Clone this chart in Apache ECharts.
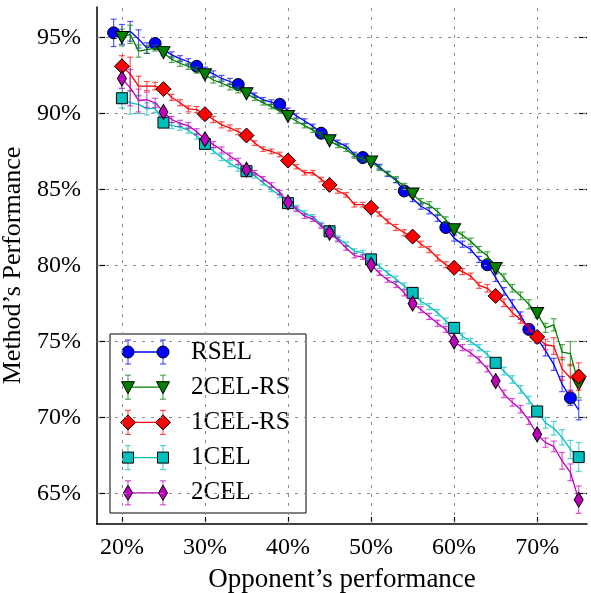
<!DOCTYPE html>
<html>
<head>
<meta charset="utf-8">
<script src="https://cdn.jsdelivr.net/npm/echarts@6/dist/echarts.min.js"></script>
<style>
html, body { margin: 0; padding: 0; background: #fff; }
#chart { width: 591px; height: 593px; }
</style>
</head>
<body>
<div id="chart"></div>
<script>
// tick positions (percent)
const xTicks = [20, 30, 40, 50, 60, 70];
const yTicks = [65, 70, 75, 80, 85, 90, 95];

// opponent's performance (x), one point per percent
const xRSEL = [19, 20, 21, 22, 23, 24, 25, 26, 27, 28, 29, 30, 31, 32, 33, 34, 35, 36, 37, 38,
  39, 40, 41, 42, 43, 44, 45, 46, 47, 48, 49, 50, 51, 52, 53, 54, 55, 56, 57, 58,
  59, 60, 61, 62, 63, 64, 65, 66, 67, 68, 69, 70, 71, 72, 73, 74, 75];
const xOther = [20, 21, 22, 23, 24, 25, 26, 27, 28, 29, 30, 31, 32, 33, 34, 35, 36, 37, 38, 39,
  40, 41, 42, 43, 44, 45, 46, 47, 48, 49, 50, 51, 52, 53, 54, 55, 56, 57, 58, 59,
  60, 61, 62, 63, 64, 65, 66, 67, 68, 69, 70, 71, 72, 73, 74, 75];

// method's performance (y) and error half-widths
const rsel = [95.3, 95.2, 95.4, 94.9, 94.3, 94.6, 94.2, 93.85, 93.6, 93.4,
  93.1, 92.85, 92.6, 92.3, 92.1, 91.9, 91.5, 91.2, 90.9, 90.75,
  90.6, 90.2, 89.85, 89.5, 89.15, 88.7, 88.4, 88.1, 87.85, 87.3,
  87.1, 86.95, 86.5, 86.0, 85.6, 84.9, 84.4, 83.9, 83.6, 83.1,
  82.5, 81.8, 81.4, 81.05, 80.4, 80.05, 79.2, 78.3, 77.5, 76.7,
  75.8, 75.2, 74.4, 73.5, 72.2, 71.3, 70.5];
const rselErr = [0.9, 0.65, 0.65, 0.6, 0.35, 0.25, 0.2, 0.2, 0.2, 0.2,
  0.2, 0.2, 0.2, 0.2, 0.2, 0.2, 0.15, 0.15, 0.15, 0.15,
  0.15, 0.15, 0.15, 0.15, 0.15, 0.15, 0.15, 0.15, 0.15, 0.15,
  0.15, 0.15, 0.15, 0.15, 0.15, 0.2, 0.2, 0.2, 0.2, 0.2,
  0.2, 0.2, 0.2, 0.2, 0.2, 0.25, 0.25, 0.25, 0.25, 0.25,
  0.3, 0.3, 0.35, 0.4, 0.5, 0.5, 0.65];

const cel2rs = [95.0, 95.2, 94.1, 94.2, 94.3, 94.0, 93.55, 93.3, 93.1, 92.85,
  92.55, 92.2, 92.0, 91.75, 91.55, 91.3, 91.0, 90.7, 90.45, 90.15,
  89.8, 89.5, 89.2, 88.9, 88.6, 88.2, 87.9, 87.65, 87.2, 87.0,
  86.8, 86.4, 86.05, 85.65, 85.2, 84.7, 84.2, 84.0, 83.55, 83.0,
  82.35, 82.0, 81.6, 81.05, 80.65, 79.8, 79.2, 78.5, 78.0, 77.45,
  76.85, 75.9, 76.1, 74.3, 74.2, 72.2];
const cel2rsErr = [0.55, 0.6, 0.4, 0.25, 0.2, 0.2, 0.2, 0.2, 0.2, 0.2,
  0.2, 0.2, 0.2, 0.2, 0.2, 0.15, 0.15, 0.15, 0.15, 0.15,
  0.15, 0.15, 0.15, 0.15, 0.15, 0.15, 0.15, 0.15, 0.15, 0.15,
  0.15, 0.15, 0.15, 0.2, 0.2, 0.2, 0.2, 0.2, 0.2, 0.2,
  0.2, 0.2, 0.2, 0.2, 0.25, 0.25, 0.25, 0.25, 0.25, 0.3,
  0.3, 0.3, 0.4, 0.5, 0.8, 0.9];

const cel1rs = [93.1, 92.6, 91.8, 91.8, 91.8, 91.6, 91.05, 90.7, 90.3, 90.25,
  89.95, 89.6, 89.25, 89.05, 88.8, 88.55, 88.05, 87.65, 87.5, 87.3,
  86.9, 86.5, 86.1, 86.1, 85.65, 85.3, 84.9, 84.65, 84.0, 84.0,
  83.8, 83.4, 82.9, 82.5, 82.15, 81.9, 81.4, 81.05, 80.5, 80.05,
  79.85, 79.6, 79.3, 78.7, 78.5, 78.0, 77.55, 76.9, 76.45, 75.9,
  75.3, 74.8, 74.7, 73.2, 72.6, 72.7];
const cel1rsErr = [0.7, 1.1, 0.65, 0.3, 0.25, 0.2, 0.2, 0.2, 0.2, 0.2,
  0.2, 0.2, 0.2, 0.2, 0.2, 0.15, 0.15, 0.15, 0.15, 0.15,
  0.15, 0.15, 0.15, 0.15, 0.15, 0.15, 0.15, 0.15, 0.15, 0.15,
  0.15, 0.15, 0.15, 0.2, 0.2, 0.2, 0.2, 0.2, 0.2, 0.2,
  0.2, 0.2, 0.2, 0.2, 0.25, 0.25, 0.25, 0.25, 0.25, 0.25,
  0.3, 0.35, 0.55, 0.75, 0.9, 0.9];

const cel1 = [91.0, 90.7, 90.6, 90.3, 90.35, 89.4, 89.2, 89.1, 88.9, 88.5,
  88.0, 87.55, 87.1, 86.7, 86.4, 86.2, 85.9, 85.45, 85.0, 84.6,
  84.1, 83.8, 83.45, 83.2, 82.7, 82.25, 81.8, 81.4, 80.95, 80.85,
  80.4, 79.95, 79.5, 79.1, 78.65, 78.2, 77.65, 77.3, 76.9, 76.35,
  75.9, 75.35, 75.0, 74.6, 74.15, 73.6, 73.05, 72.5, 71.85, 71.15,
  70.4, 69.65, 69.3, 68.7, 67.9, 67.4];
const cel1Err = [0.65, 0.75, 0.6, 0.4, 0.3, 0.2, 0.2, 0.2, 0.2, 0.2,
  0.2, 0.2, 0.2, 0.2, 0.2, 0.15, 0.15, 0.15, 0.15, 0.15,
  0.15, 0.15, 0.15, 0.15, 0.15, 0.15, 0.15, 0.15, 0.15, 0.15,
  0.15, 0.15, 0.15, 0.2, 0.2, 0.2, 0.2, 0.2, 0.2, 0.2,
  0.2, 0.2, 0.2, 0.2, 0.2, 0.25, 0.25, 0.25, 0.25, 0.25,
  0.3, 0.35, 0.45, 0.5, 0.6, 0.95];

const cel2 = [92.3, 91.7, 90.85, 90.9, 90.7, 90.1, 89.6, 89.35, 89.2, 88.8,
  88.3, 87.95, 87.6, 87.2, 86.85, 86.3, 86.1, 85.7, 85.3, 84.8,
  84.15, 83.7, 83.25, 83.05, 82.6, 82.15, 81.7, 81.15, 80.65, 80.55,
  80.05, 79.5, 79.05, 78.75, 78.2, 77.5, 77.1, 76.65, 76.2, 75.8,
  75.0, 74.6, 74.25, 73.8, 73.2, 72.4, 71.55, 71.0, 70.55, 69.8,
  68.9, 68.35, 68.1, 67.15, 66.4, 64.6];
const cel2Err = [0.65, 1.2, 0.75, 0.5, 0.3, 0.2, 0.2, 0.2, 0.2, 0.2,
  0.2, 0.2, 0.2, 0.2, 0.2, 0.15, 0.15, 0.15, 0.15, 0.15,
  0.15, 0.15, 0.15, 0.15, 0.15, 0.15, 0.15, 0.15, 0.15, 0.15,
  0.15, 0.15, 0.15, 0.2, 0.2, 0.2, 0.2, 0.2, 0.2, 0.2,
  0.2, 0.2, 0.2, 0.2, 0.2, 0.25, 0.25, 0.25, 0.25, 0.25,
  0.3, 0.3, 0.35, 0.55, 0.55, 0.9];

const FONT = 'Liberation Serif';

// name, x, y, err, color, symbol, size, rotate
const methods = [
  { name: 'RSEL', x: xRSEL, y: rsel, err: rselErr, color: '#0000ff', symbol: 'circle', size: 12, rotate: 0 },
  { name: '2CEL-RS', x: xOther, y: cel2rs, err: cel2rsErr, color: '#008000', symbol: 'triangle', size: [13, 12], rotate: 180 },
  { name: '1CEL-RS', x: xOther, y: cel1rs, err: cel1rsErr, color: '#ff0000', symbol: 'diamond', size: [15, 15], rotate: 0 },
  { name: '1CEL', x: xOther, y: cel1, err: cel1Err, color: '#00bfbf', symbol: 'rect', size: [11, 11], rotate: 0 },
  { name: '2CEL', x: xOther, y: cel2, err: cel2Err, color: '#bf00bf', symbol: 'diamond', size: [9, 15], rotate: 0 }
];

function errRenderer(color) {
  return function (params, api) {
    const x = api.value(0);
    const top = api.coord([x, api.value(2)]);
    const bot = api.coord([x, api.value(1)]);
    const w = 3;
    const style = { stroke: color, lineWidth: 1.2, opacity: 0.65 };
    return {
      type: 'group',
      children: [
        { type: 'line', shape: { x1: top[0], y1: top[1], x2: bot[0], y2: bot[1] }, style: style },
        { type: 'line', shape: { x1: top[0] - w, y1: top[1], x2: top[0] + w, y2: top[1] }, style: style },
        { type: 'line', shape: { x1: bot[0] - w, y1: bot[1], x2: bot[0] + w, y2: bot[1] }, style: style }
      ]
    };
  };
}

const series = [];
// dashed grid lines
series.push({
  type: 'line',
  data: [],
  silent: true,
  z: 0,
  markLine: {
    silent: true,
    symbol: 'none',
    animation: false,
    label: { show: false },
    lineStyle: { color: '#8c8c8c', width: 1, type: [3, 6] },
    data: xTicks.map(v => ({ xAxis: v })).concat(yTicks.map(v => ({ yAxis: v })))
  }
});

methods.forEach(function (m, k) {
  series.push({
    type: 'custom',
    name: m.name + ' err',
    renderItem: errRenderer(m.color),
    data: m.x.map((x, i) => [x, m.y[i] - m.err[i], m.y[i] + m.err[i]]),
    z: 2 + k * 2,
    silent: true,
    animation: false
  });
  series.push({
    type: 'line',
    name: m.name,
    data: m.x.map((x, i) => (i % 5 === 0
      ? { value: [x, m.y[i]] }
      : { value: [x, m.y[i]], symbol: 'none' })),
    symbol: m.symbol,
    symbolSize: m.size,
    symbolRotate: m.rotate,
    showAllSymbol: true,
    lineStyle: { color: m.color, width: 1.3 },
    itemStyle: { color: m.color, borderColor: '#000', borderWidth: 1 },
    z: 3 + k * 2,
    silent: true,
    animation: false
  });
});

// legend box drawn by hand (marker - line - marker with error bars)
const legendChildren = [{
  type: 'rect',
  shape: { x: 110, y: 334, width: 196, height: 179 },
  style: { fill: '#fff', stroke: '#000', lineWidth: 1 }
}];
function legendMarker(m, cx, cy) {
  const st = { fill: m.color, stroke: '#000', lineWidth: 1 };
  if (m.symbol === 'circle') return { type: 'circle', shape: { cx: cx, cy: cy, r: 6 }, style: st };
  if (m.symbol === 'triangle') return { type: 'polygon', shape: { points: [[cx - 6.5, cy - 5.5], [cx + 6.5, cy - 5.5], [cx, cy + 6.5]] }, style: st };
  if (m.symbol === 'rect') return { type: 'rect', shape: { x: cx - 5.5, y: cy - 5.5, width: 11, height: 11 }, style: st };
  const hw = m.size[0] / 2, hh = m.size[1] / 2;
  return { type: 'polygon', shape: { points: [[cx, cy - hh], [cx + hw, cy], [cx, cy + hh], [cx - hw, cy]] }, style: st };
}
methods.forEach(function (m, i) {
  const cy = 352 + i * 35.2;
  const xs = [128, 163];
  const es = { stroke: m.color, lineWidth: 1.2, opacity: 0.65 };
  legendChildren.push({ type: 'line', shape: { x1: xs[0], y1: cy, x2: xs[1], y2: cy }, style: { stroke: m.color, lineWidth: 1.3 } });
  xs.forEach(function (x) {
    legendChildren.push({ type: 'line', shape: { x1: x, y1: cy - 12, x2: x, y2: cy + 12 }, style: es });
    legendChildren.push({ type: 'line', shape: { x1: x - 3, y1: cy - 12, x2: x + 3, y2: cy - 12 }, style: es });
    legendChildren.push({ type: 'line', shape: { x1: x - 3, y1: cy + 12, x2: x + 3, y2: cy + 12 }, style: es });
    legendChildren.push(legendMarker(m, x, cy));
  });
  legendChildren.push({
    type: 'text',
    x: 191, y: cy,
    style: { text: m.name, fill: '#000', font: '25px "' + FONT + '"', textVerticalAlign: 'middle', textAlign: 'left' }
  });
});

var chartDom = document.getElementById('chart');
var myChart = echarts.init(chartDom);
let option = {
  animation: false,
  backgroundColor: '#fff',
  grid: { left: 97, right: 4, top: 7, bottom: 69, outerBoundsMode: 'none' },
  xAxis: {
    type: 'value',
    min: 17, max: 76,
    name: 'Opponent’s performance',
    nameLocation: 'middle',
    nameGap: 42,
    nameTextStyle: { fontFamily: FONT, fontSize: 27, color: '#000' },
    axisLine: { show: true, onZero: false, lineStyle: { color: '#000', width: 1.5 } },
    axisTick: { show: true, inside: true, length: 7, customValues: xTicks, lineStyle: { color: '#000', width: 1.2 } },
    axisLabel: { customValues: xTicks, formatter: '{value}%', fontFamily: FONT, fontSize: 24, color: '#000', margin: 12 },
    splitLine: { show: false }
  },
  yAxis: [{
    type: 'value',
    min: 63, max: 97,
    name: 'Method’s Performance',
    nameLocation: 'middle',
    nameGap: 66,
    nameRotate: 90,
    nameTextStyle: { fontFamily: FONT, fontSize: 26, color: '#000' },
    axisLine: { show: true, onZero: false, lineStyle: { color: '#000', width: 1.5 } },
    axisTick: { show: true, inside: true, length: 8, customValues: yTicks, lineStyle: { color: '#000', width: 1.2 } },
    axisLabel: { customValues: yTicks, formatter: '{value}%', fontFamily: FONT, fontSize: 24, color: '#000', margin: 16 },
    splitLine: { show: false }
  }, {
    type: 'value',
    position: 'right',
    min: 63, max: 97,
    axisLine: { show: false },
    axisTick: { show: true, inside: true, length: 8, customValues: yTicks, lineStyle: { color: '#000', width: 1.2 } },
    axisLabel: { show: false },
    splitLine: { show: false }
  }],
  series: series,
  graphic: [{ type: 'group', z: 100, children: legendChildren }]
};
option && myChart.setOption(option);
</script>
</body>
</html>
